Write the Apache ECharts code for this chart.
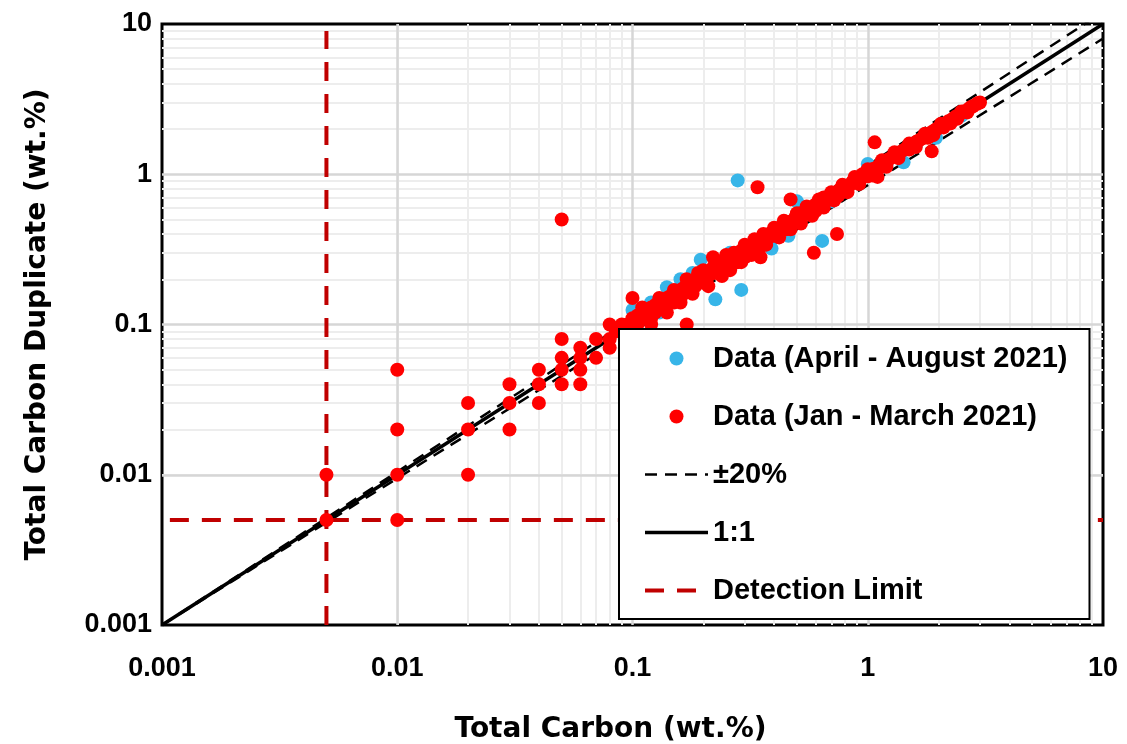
<!DOCTYPE html>
<html lang="en">
<head>
    <meta charset="UTF-8">
    <title>Total Carbon duplicate check</title>
    <script src="https://cdn.jsdelivr.net/npm/echarts@6.0.0/dist/echarts.min.js"></script>
    <style>
        body { margin: 0; background: #fff; }
    </style>
</head>
<body>
    <div id="main" style="width: 1127px;height:744px;"></div>
    <script type="text/javascript">

    // axis range and decades (log 10)
    var axisMin = 0.001;
    var axisMax = 10;
    var majorTicks = [0.01, 0.1, 1];
    var minorSteps = [2, 3, 4, 5, 6, 7, 8, 9];
    var decades = [0.001, 0.01, 0.1, 1];

    // reference lines (as plotted, straight between the end points)
    var oneToOne = [[0.001, 0.001], [10, 10]];
    var plus20 = [[0.001, 0.001], [10, 12]];
    var minus20 = [[0.001, 0.001], [10, 8]];
    var detectionLimit = 0.005;

    // Data (April - August 2021)  [TC, TC duplicate]
    var aprilAugust = [
        [0.1, 0.125], [0.12, 0.14], [0.13, 0.12], [0.14, 0.177], [0.16, 0.2],
        [0.18, 0.22], [0.195, 0.27], [0.225, 0.147], [0.24, 0.26], [0.26, 0.3],
        [0.29, 0.17], [0.28, 0.91], [0.3, 0.33], [0.35, 0.37], [0.39, 0.32],
        [0.46, 0.39], [0.5, 0.52], [0.5, 0.66], [0.64, 0.36], [0.7, 0.66],
        [0.8, 0.78], [0.9, 0.95], [1.0, 1.17], [1.2, 1.15], [1.42, 1.2],
        [1.6, 1.55], [1.95, 1.75], [2.5, 2.45]
    ];

    // Data (Jan - March 2021)  [TC, TC duplicate]
    var janMarch = [
        // low range, near detection limit
        [0.005, 0.01], [0.005, 0.005],
        [0.01, 0.05], [0.01, 0.02], [0.01, 0.01], [0.01, 0.005],
        [0.02, 0.03], [0.02, 0.02], [0.02, 0.01],
        [0.03, 0.04], [0.03, 0.03], [0.03, 0.02],
        [0.04, 0.05], [0.04, 0.04], [0.04, 0.03],
        [0.05, 0.5], [0.05, 0.08], [0.05, 0.06], [0.05, 0.05], [0.05, 0.04],
        [0.06, 0.07], [0.06, 0.06], [0.06, 0.05], [0.06, 0.04],
        [0.07, 0.08], [0.07, 0.06], [0.08, 0.1], [0.08, 0.07], [0.09, 0.1],
        // outliers
        [0.1, 0.15], [0.17, 0.1], [0.22, 0.28], [0.34, 0.82], [0.35, 0.28],
        [0.47, 0.68], [0.59, 0.3], [0.74, 0.4], [1.07, 1.63], [1.1, 0.96], [1.87, 1.42],
        // main band
        [0.08, 0.08], [0.085, 0.09], [0.09, 0.09], [0.095, 0.1], [0.1, 0.1],
        [0.1, 0.11], [0.105, 0.1], [0.11, 0.11], [0.11, 0.12], [0.115, 0.11],
        [0.12, 0.12], [0.12, 0.13], [0.12, 0.11], [0.125, 0.12], [0.13, 0.13],
        [0.13, 0.14], [0.135, 0.13], [0.14, 0.14], [0.14, 0.15], [0.145, 0.14],
        [0.15, 0.15], [0.15, 0.16], [0.15, 0.14], [0.155, 0.15], [0.16, 0.16],
        [0.16, 0.17], [0.165, 0.16], [0.17, 0.17], [0.17, 0.18], [0.175, 0.17],
        [0.18, 0.18], [0.18, 0.19], [0.18, 0.17], [0.185, 0.18], [0.19, 0.19],
        [0.19, 0.2], [0.2, 0.2], [0.2, 0.21], [0.2, 0.19], [0.205, 0.19],
        [0.21, 0.21], [0.21, 0.22], [0.22, 0.22], [0.22, 0.23], [0.22, 0.24],
        [0.23, 0.23], [0.23, 0.22], [0.24, 0.24], [0.24, 0.25], [0.25, 0.25],
        [0.25, 0.24], [0.25, 0.27], [0.26, 0.26], [0.26, 0.27], [0.27, 0.27],
        [0.27, 0.26], [0.28, 0.28], [0.28, 0.29], [0.28, 0.26], [0.29, 0.29],
        [0.3, 0.3], [0.3, 0.31], [0.3, 0.28], [0.31, 0.3], [0.32, 0.32],
        [0.32, 0.33], [0.33, 0.33], [0.34, 0.34], [0.34, 0.35], [0.35, 0.35],
        [0.35, 0.33], [0.36, 0.36], [0.36, 0.35], [0.37, 0.37], [0.38, 0.38],
        [0.38, 0.39], [0.39, 0.39], [0.4, 0.4], [0.4, 0.42], [0.41, 0.42],
        [0.42, 0.42], [0.43, 0.43], [0.44, 0.45], [0.45, 0.45], [0.45, 0.43],
        [0.46, 0.46], [0.47, 0.48], [0.48, 0.48], [0.5, 0.5], [0.5, 0.52],
        [0.5, 0.48], [0.52, 0.52], [0.53, 0.54], [0.55, 0.55], [0.55, 0.58],
        [0.56, 0.57], [0.58, 0.58], [0.6, 0.6], [0.6, 0.62], [0.6, 0.57],
        [0.62, 0.63], [0.64, 0.65], [0.65, 0.7], [0.66, 0.67], [0.68, 0.68],
        [0.7, 0.71], [0.7, 0.68], [0.72, 0.73], [0.74, 0.76], [0.75, 0.72],
        [0.76, 0.77], [0.78, 0.8], [0.8, 0.82], [0.8, 0.77], [0.82, 0.84],
        [0.85, 0.86], [0.88, 0.9], [0.9, 0.92], [0.9, 0.88], [0.93, 0.95],
        [0.95, 1.0], [0.96, 0.98], [1.0, 1.02], [1.0, 0.97], [1.03, 1.05],
        [1.06, 1.09], [1.1, 1.12], [1.1, 1.07], [1.13, 1.16], [1.17, 1.2],
        [1.2, 1.22], [1.2, 1.17], [1.24, 1.27], [1.28, 1.31], [1.3, 1.34],
        [1.32, 1.35], [1.36, 1.38], [1.4, 1.43], [1.45, 1.48], [1.5, 1.52],
        [1.5, 1.46], [1.55, 1.58], [1.6, 1.63], [1.65, 1.68], [1.7, 1.73],
        [1.76, 1.8], [1.8, 1.75], [1.82, 1.85], [1.88, 1.92], [1.94, 1.98],
        [2.0, 2.04], [2.07, 2.1], [2.1, 2.05], [2.14, 2.18], [2.2, 2.25],
        [2.28, 2.32], [2.35, 2.4], [2.4, 2.34], [2.43, 2.47], [2.5, 2.55],
        [2.6, 2.64], [2.7, 2.74], [2.8, 2.83], [2.9, 2.93], [3.0, 3.0],
        // wider scatter around the band
        [0.11, 0.13], [0.12, 0.1], [0.13, 0.15], [0.14, 0.12], [0.15, 0.17],
        [0.16, 0.14], [0.17, 0.2], [0.18, 0.16], [0.19, 0.22], [0.2, 0.23],
        [0.21, 0.18], [0.23, 0.26], [0.24, 0.21], [0.25, 0.29], [0.26, 0.23],
        [0.27, 0.3], [0.29, 0.26], [0.3, 0.34], [0.32, 0.29], [0.33, 0.37],
        [0.36, 0.4], [0.37, 0.34], [0.4, 0.44], [0.42, 0.38], [0.44, 0.49],
        [0.47, 0.43], [0.5, 0.55], [0.52, 0.47], [0.55, 0.61], [0.58, 0.53],
        [0.62, 0.68], [0.65, 0.6], [0.7, 0.76], [0.72, 0.67], [0.78, 0.85],
        [0.82, 0.76], [0.88, 0.96], [0.92, 0.86], [1.0, 1.08], [1.05, 0.98],
        [1.15, 1.24], [1.2, 1.12], [1.3, 1.4], [1.35, 1.28], [1.5, 1.6],
        [1.6, 1.52], [1.75, 1.86], [1.9, 1.82], [2.05, 2.17], [2.25, 2.18],
        [2.5, 2.62], [2.65, 2.58],
        [0.105, 0.115], [0.115, 0.125], [0.125, 0.135], [0.135, 0.145], [0.145, 0.155],
        [0.155, 0.165], [0.165, 0.175], [0.175, 0.185], [0.185, 0.2], [0.195, 0.21],
        [0.205, 0.22], [0.215, 0.23], [0.225, 0.24], [0.235, 0.25], [0.245, 0.26],
        [0.255, 0.27], [0.265, 0.28], [0.275, 0.29], [0.29, 0.31], [0.305, 0.32],
        [0.315, 0.33], [0.33, 0.35], [0.345, 0.36], [0.36, 0.38], [0.375, 0.39],
        [0.39, 0.41], [0.41, 0.4], [0.43, 0.45], [0.46, 0.48], [0.49, 0.51],
        [0.52, 0.55], [0.57, 0.59], [0.6, 0.63], [0.63, 0.66], [0.67, 0.7],
        [0.71, 0.74], [0.76, 0.79], [0.81, 0.84], [0.86, 0.89], [0.92, 0.94],
        [0.98, 1.01], [1.04, 1.07], [1.12, 1.14], [1.22, 1.25], [1.34, 1.37],
        [1.47, 1.5], [1.62, 1.65], [1.78, 1.81], [1.96, 1.99], [2.18, 2.22],
        [2.38, 2.42], [2.55, 2.6], [2.75, 2.8], [2.95, 2.98]
    ];

    var tickFont = 'Liberation Sans';
    var titleFont = 'DejaVu Sans';

    // gridline positions for the markLines
    var minorTicks = [];
    decades.forEach(function (d) {
        minorSteps.forEach(function (s) { minorTicks.push(d * s); });
    });

    function gridLines(values, color, width) {
        var data = [];
        values.forEach(function (v) {
            data.push({ xAxis: v });
            data.push({ yAxis: v });
        });
        return {
            silent: true,
            z: 1,
            symbol: ['none', 'none'],
            label: { show: false },
            lineStyle: { color: color, width: width, type: 'solid' },
            emphasis: { disabled: true },
            data: data
        };
    }

    var myChart = echarts.init(document.getElementById('main'));

    var option = {
        animation: false,
        backgroundColor: '#fff',
        grid: {
            left: 162, right: 24, top: 24, bottom: 119,
            outerBoundsMode: 'none',
            show: true,
            backgroundColor: '#fff',
            borderColor: '#000',
            borderWidth: 3
        },
        legend: {
            data: ['Data (April - August 2021)', 'Data (Jan - March 2021)', '±20%', '1:1', 'Detection Limit'],
            orient: 'vertical',
            left: 619,
            top: 329,
            padding: [15, 22, 14, 24],
            itemGap: 29,
            itemWidth: 63,
            itemHeight: 14,
            selectedMode: false,
            backgroundColor: '#fff',
            borderColor: '#000',
            borderWidth: 2,
            lineStyle: { width: 'inherit' },
            textStyle: {
                fontFamily: tickFont, fontWeight: 'bold', fontSize: 29,
                lineHeight: 28, color: '#000'
            }
        },
        xAxis: {
            type: 'log',
            logBase: 10,
            min: axisMin,
            max: axisMax,
            name: 'Total Carbon (wt.%)',
            nameLocation: 'middle',
            nameGap: 91,
            nameTextStyle: {
                fontFamily: titleFont, fontWeight: 'bold', fontSize: 28,
                color: '#000', padding: [0, 44, 0, 0]
            },
            axisLine: { show: false },
            axisTick: { show: false },
            splitLine: { show: false },
            axisLabel: {
                margin: 30,
                fontFamily: tickFont, fontWeight: 'bold', fontSize: 27, color: '#000'
            }
        },
        yAxis: {
            type: 'log',
            logBase: 10,
            min: axisMin,
            max: axisMax,
            name: 'Total Carbon Duplicate (wt.%)',
            nameLocation: 'middle',
            nameGap: 110,
            nameTextStyle: {
                fontFamily: titleFont, fontWeight: 'bold', fontSize: 28, color: '#000'
            },
            axisLine: { show: false },
            axisTick: { show: false },
            splitLine: { show: false },
            axisLabel: {
                margin: 10,
                fontFamily: tickFont, fontWeight: 'bold', fontSize: 27, color: '#000'
            }
        },
        series: [
            {
                name: 'minorGrid', type: 'line', data: [], z: 1,
                markLine: gridLines(minorTicks, '#ededed', 2)
            },
            {
                name: 'majorGrid', type: 'line', data: [], z: 1,
                markLine: gridLines(majorTicks, '#d6d6d6', 2.5)
            },
            {
                name: '±20%', type: 'line', symbol: 'none', z: 2,
                itemStyle: { color: 'rgba(0,0,0,0)' },
                lineStyle: { color: '#000', width: 2.5, type: [12, 8] },
                data: plus20.concat([['-', '-']], minus20)
            },
            {
                name: '1:1', type: 'line', symbol: 'none', z: 2,
                itemStyle: { color: 'rgba(0,0,0,0)' },
                lineStyle: { color: '#000', width: 3.5 },
                data: oneToOne
            },
            {
                name: 'Detection Limit', type: 'line', symbol: 'none', z: 2,
                itemStyle: { color: 'rgba(0,0,0,0)' },
                lineStyle: { color: '#c00000', width: 4, type: [19, 13] },
                data: [[detectionLimit, axisMin], [detectionLimit, 9], ['-', '-'],
                       [0.00108, detectionLimit], [axisMax, detectionLimit]]
            },
            {
                name: 'Data (April - August 2021)', type: 'scatter', z: 3,
                symbolSize: 14,
                itemStyle: { color: '#37b5e8', opacity: 1 },
                data: aprilAugust
            },
            {
                name: 'Data (Jan - March 2021)', type: 'scatter', z: 3,
                symbolSize: 14,
                itemStyle: { color: '#ff0000', opacity: 1 },
                data: janMarch
            }
        ]
    };

    myChart.setOption(option);
    </script>
</body>
</html>
